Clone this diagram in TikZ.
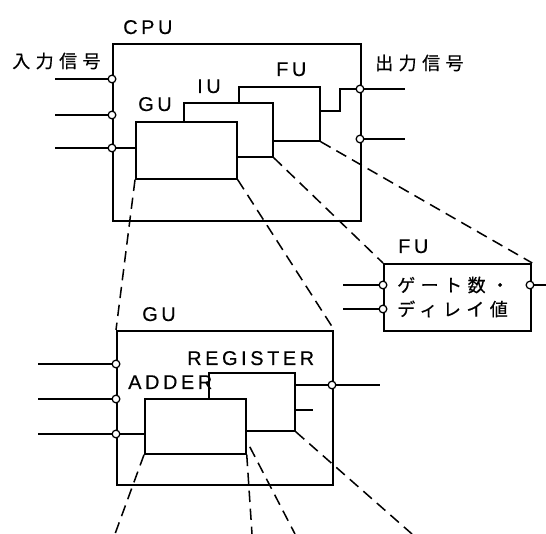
\documentclass[tikz,border=0pt]{standalone}
\usepackage{fontspec}
\usetikzlibrary{positioning}
\newfontfamily\lblfam[LetterSpace=18, FakeBold=0.4]{Liberation Sans}
\newfontfamily\jpfam[LetterSpace=30, FakeBold=0.4]{Noto Sans CJK JP}

\begin{document}
\begin{tikzpicture}[
  x=0.03cm, y=-0.03cm,
  box/.style={rectangle, draw, fill=white, line width=1.5pt, inner sep=0pt, anchor=north west},
  outer/.style={box, line width=1.9pt},
  pin/.style={circle, draw, fill=white, line width=1.1pt, minimum size=0.23cm, inner sep=0pt},
  wire/.style={line width=1.5pt},
  zoomline/.style={line width=1.3pt, dash pattern=on 0.34cm off 0.2cm},
  lbl/.style={font=\lblfam\fontsize{17}{20}\selectfont, anchor=base west, inner sep=0pt},
  jp/.style={font=\jpfam\fontsize{15.4}{18}\selectfont, anchor=west, inner sep=0pt},
]
\useasboundingbox (0,0) rectangle (546,534);

\node[outer, minimum width=7.44cm, minimum height=5.31cm] (cpu) at (112,43) {};
\node[box, minimum width=2.43cm, minimum height=1.62cm] (fu) at (238,86) {};
\node[box, minimum width=2.67cm, minimum height=1.62cm] (iu) at (183,102) {};
\node[box, minimum width=3.03cm, minimum height=1.71cm] (gu) at (135,121) {};

\node[lbl] (cpulbl) at (123,34) {CPU};
\node[lbl] (gulbl) at (138,111) {GU};
\node[lbl] (iulbl) at (197,93) {IU};
\node[lbl] (fulbl) at (276,76) {FU};
\node[jp] (inlbl) at (12,61) {入力信号};
\node[jp] (outlbl) at (375,63) {出力信号};

\coordinate (ci1s) at (55,79);
\coordinate (ci2s) at (55,115);
\coordinate (ci3s) at (55,148);
\node[pin] (ci1) at (112,79) {};
\node[pin] (ci2) at (112,115) {};
\node[pin] (ci3) at (112,148) {};
\draw[wire] (ci1s) -- (ci1);
\draw[wire] (ci2s) -- (ci2);
\draw[wire] (ci3s) -- (ci3);
\draw[wire] (ci3) -- (ci3 -| gu.west);

\coordinate (co1e) at (405,89);
\coordinate (co2e) at (405,139);
\node[pin] (co1) at (360,89) {};
\node[pin] (co2) at (360,139) {};
\draw[wire] (co1) -- (co1e);
\draw[wire] (co2) -- (co2e);
\draw[wire] ([yshift=0.09cm]fu.east) -- ++(19,0) |- (co1);

\node[outer, minimum width=4.41cm, minimum height=2.01cm] (fud) at (383,263) {};
\node[lbl] (fudlbl) at (398,253) {FU};
\node[jp] (gates) at (397,285) {ゲート数・};
\node[jp] (delay) at (397,309) {ディレイ値};
\coordinate (fi1s) at (343,285);
\coordinate (fi2s) at (343,309);
\coordinate (foe) at (546,285);
\node[pin] (fi1) at (383,285) {};
\node[pin] (fi2) at (383,309) {};
\node[pin] (fo) at (530,285) {};
\draw[wire] (fi1s) -- (fi1);
\draw[wire] (fi2s) -- (fi2);
\draw[wire] (fo) -- (foe);

\node[outer, minimum width=6.48cm, minimum height=4.62cm] (gud) at (116,330) {};
\node[box, minimum width=2.58cm, minimum height=1.74cm] (reg) at (208,372) {};
\node[box, minimum width=3.03cm, minimum height=1.65cm] (adder) at (144,398) {};
\node[lbl] (gudlbl) at (142,321) {GU};
\node[lbl] (reglbl) at (187,365) {REGISTER};
\node[lbl] (adderlbl) at (128,389) {ADDER};

\coordinate (gi1s) at (38,364);
\coordinate (gi2s) at (38,399);
\coordinate (gi3s) at (38,434);
\node[pin] (gi1) at (116,364) {};
\node[pin] (gi2) at (116,399) {};
\node[pin] (gi3) at (116,434) {};
\draw[wire] (gi1s) -- (gi1);
\draw[wire] (gi2s) -- (gi2);
\draw[wire] (gi3s) -- (gi3);
\draw[wire] (gi3) -- (gi3 -| adder.west);

\coordinate (goe) at (380,385);
\coordinate (stub) at (313,410);
\node[pin] (go) at (332,385) {};
\draw[wire] (go -| reg.east) -- (go);
\draw[wire] (go) -- (goe);
\draw[wire] (stub -| reg.east) -- (stub);

\draw[zoomline] (gu.south west) -- (gud.north west);
\draw[zoomline] (gu.south east) -- (gud.north east);
\draw[zoomline] (iu.south east) -- (fud.north west);
\draw[zoomline] (fu.south east) -- (fud.north east);

\coordinate (z1) at (115,534);
\coordinate (z2) at (252,534);
\coordinate (z3) at (295,534);
\coordinate (z4) at (412,534);
\draw[zoomline] (adder.south west) -- (z1);
\draw[zoomline] (adder.south east) -- (z2);
\draw[zoomline] ([xshift=0.09cm, yshift=0.24cm]adder.south east) -- (z3);
\draw[zoomline] (reg.south east) -- (z4);

\end{tikzpicture}
\end{document}
